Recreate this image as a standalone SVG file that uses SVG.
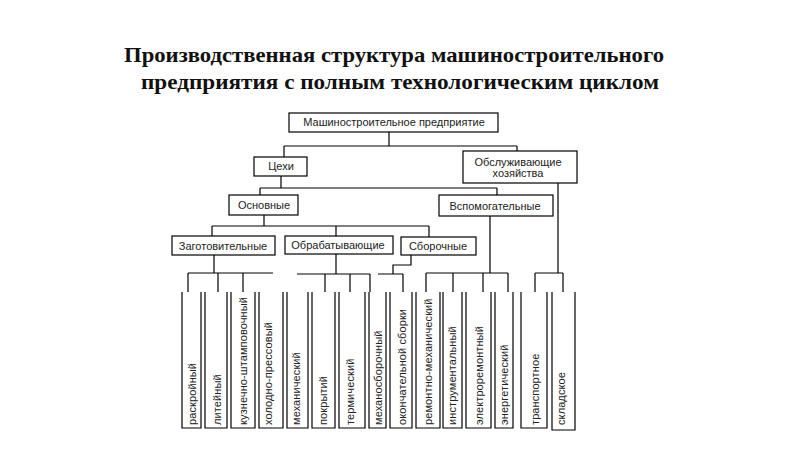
<svg xmlns="http://www.w3.org/2000/svg" width="800" height="449" viewBox="0 0 800 449">
<style>
.bg{fill:#fff}
.box{fill:none;stroke:#000;stroke-width:1.2}
.ln{fill:none;stroke:#000;stroke-width:1.2}
.lbl{font-family:"Liberation Sans",Arial,sans-serif;font-size:11px;fill:#222}
.v{font-size:11px;letter-spacing:0.1px}
.mid{text-anchor:middle}
.title{font-family:"Liberation Serif","Times New Roman",serif;font-size:22px;font-weight:bold;fill:#111;text-anchor:middle}
</style>
<rect class="bg" x="0" y="0" width="800" height="449"/>
<g id="title">
<text class="title" x="394" y="62" textLength="540" lengthAdjust="spacingAndGlyphs">Производственная структура машиностроительного</text>
<text class="title" x="400" y="89" textLength="518" lengthAdjust="spacingAndGlyphs">предприятия с полным технологическим циклом</text>
</g>
<g id="connectors">
<path class="ln" d="M389,132V146M284,146H517M284,146V157M517,146V151"/>
<path class="ln" d="M281,176V188M260,188H497M260,188V195M497,188V195"/>
<path class="ln" d="M264,215V226M212,226H429M212,226V236M336,226V236M429,226V237"/>
<path class="ln" d="M214,255V273M188,273H273M188,273V292M218,273V292M243,273V292"/>
<path class="ln" d="M336,254V274M297,274H370M325,274V292M350,274V292M370,274V292"/>
<path class="ln" d="M411,255V265H393V274M378,274H403M403,274V292"/>
<path class="ln" d="M490,216V273M426,273H508M426,273V292M453,273V292M483,273V292M508,273V292"/>
<path class="ln" d="M558,183V273M535,273H563M535,273V292M563,273V292"/>
</g>
<g id="n-enterprise"><rect class="box" x="289" y="113" width="209" height="19"/><text class="lbl mid" x="394" y="126">Машиностроительное предприятие</text></g>
<g id="n-tsekhi"><rect class="box" x="254" y="157" width="53" height="19"/><text class="lbl mid" x="281" y="170">Цехи</text></g>
<g id="n-obsl"><rect class="box" x="463" y="151" width="114" height="32"/><text class="lbl mid" x="518" y="166">Обслуживающие</text><text class="lbl mid" x="518" y="177">хозяйства</text></g>
<g id="n-osnovnye"><rect class="box" x="229" y="195" width="69" height="20"/><text class="lbl mid" x="264" y="209">Основные</text></g>
<g id="n-vspom"><rect class="box" x="439" y="195" width="114" height="21"/><text class="lbl mid" x="495" y="210">Вспомогательные</text></g>
<g id="n-zagot"><rect class="box" x="172" y="236" width="103" height="19"/><text class="lbl mid" x="223" y="250">Заготовительные</text></g>
<g id="n-obrab"><rect class="box" x="285" y="236" width="108" height="18"/><text class="lbl mid" x="338" y="249">Обрабатывающие</text></g>
<g id="n-sbor"><rect class="box" x="401" y="237" width="75" height="18"/><text class="lbl mid" x="438" y="250">Сборочные</text></g>
<g id="c1"><path class="box" d="M182,292V428H201V292"/><text class="lbl v" transform="translate(196,425) rotate(-90)">раскройный</text></g>
<g id="c2"><path class="box" d="M205,292V428H227V292"/><text class="lbl v" transform="translate(221,425) rotate(-90)">литейный</text></g>
<g id="c3"><path class="box" d="M231,292V428H255V292"/><text class="lbl v" transform="translate(247,425) rotate(-90)">кузнечно-штамповочный</text></g>
<g id="c4"><path class="box" d="M259,292V428H283V292"/><text class="lbl v" transform="translate(272,425) rotate(-90)">холодно-прессовый</text></g>
<g id="c5"><path class="box" d="M287,292V428H308V292"/><text class="lbl v" transform="translate(300,425) rotate(-90)">механический</text></g>
<g id="c6"><path class="box" d="M312,292V428H335V292"/><text class="lbl v" transform="translate(327,425) rotate(-90)">покрытий</text></g>
<g id="c7"><path class="box" d="M339,292V428H365V292"/><text class="lbl v" transform="translate(354,425) rotate(-90)">термический</text></g>
<g id="c8"><path class="box" d="M369,292V428H386V292"/><text class="lbl v" transform="translate(382,425) rotate(-90)">механосборочный</text></g>
<g id="c9"><path class="box" d="M390,292V428H412V292"/><text class="lbl v" transform="translate(406,425) rotate(-90)">окончательной сборки</text></g>
<g id="c10"><path class="box" d="M416,292V428H440V292"/><text class="lbl v" transform="translate(432,425) rotate(-90)">ремонтно-механический</text></g>
<g id="c11"><path class="box" d="M443,292V428H462V292"/><text class="lbl v" transform="translate(456,425) rotate(-90)">инструментальный</text></g>
<g id="c12"><path class="box" d="M466,292V428H491V292"/><text class="lbl v" transform="translate(483,425) rotate(-90)">электроремонтный</text></g>
<g id="c13"><path class="box" d="M495,292V428H513V292"/><text class="lbl v" transform="translate(508,425) rotate(-90)">энергетический</text></g>
<g id="c14"><path class="box" d="M521,292V428H547V292"/><text class="lbl v" transform="translate(539,425) rotate(-90)">транспортное</text></g>
<g id="c15"><path class="box" d="M552,292V430H575V292"/><text class="lbl v" transform="translate(565,425) rotate(-90)">складское</text></g>
</svg>
